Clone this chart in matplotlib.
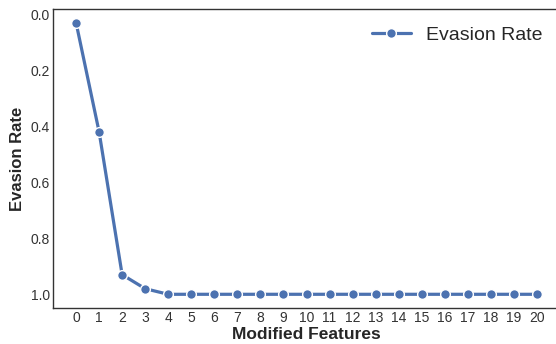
import matplotlib
matplotlib.use('Agg')
import matplotlib.pyplot as plt
import seaborn as sns

features = list(range(21))
evasion_rate = [0.03, 0.42, 0.93, 0.98] + [1.0] * 17

sns.set_style('white')
plt.rcParams['font.family'] = ['Liberation Sans', 'DejaVu Sans']

fig = plt.figure(figsize=(5.56, 3.44), dpi=100)
ax = fig.add_axes([0.0953, 0.105, 0.912, 0.869])

ax.plot(features, evasion_rate, color='#4c72b0', linewidth=2.3, marker='o',
        markersize=7, markeredgecolor='white', markeredgewidth=1, label='Evasion Rate')

ax.invert_yaxis()
ax.set_xlim(-1, 21)
ax.set_xticks(features)
ax.set_yticks([0.0, 0.2, 0.4, 0.6, 0.8, 1.0])
ax.tick_params(axis='both', labelsize=10, colors='#333333', length=0, pad=2)
ax.set_xlabel('Modified Features', fontsize=12.5, fontweight='bold', color='#262626', labelpad=2)
ax.set_ylabel('Evasion Rate', fontsize=12, fontweight='bold', color='#262626', labelpad=4)
for s in ax.spines.values():
    s.set_color('#333333')
    s.set_linewidth(1.0)

ax.legend(loc='upper right', bbox_to_anchor=(1.0, 1.0), fontsize=14, frameon=False,
          handlelength=2)

fig.savefig('out.png', dpi=100)
